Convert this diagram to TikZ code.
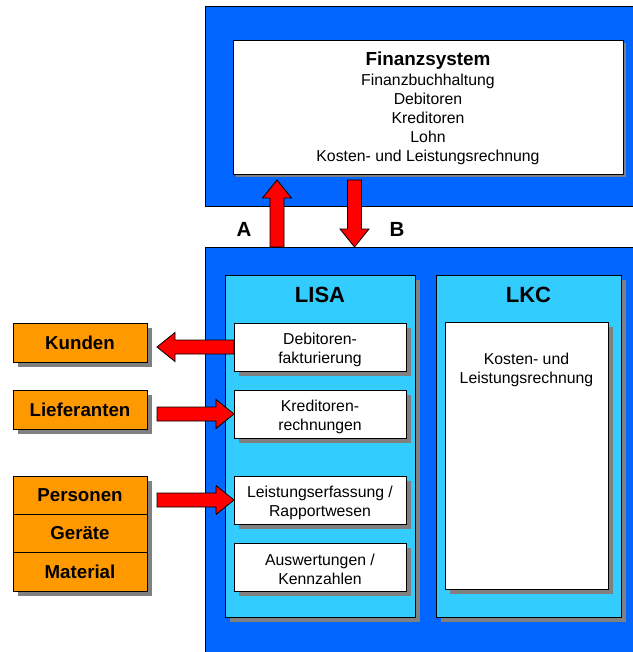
\documentclass[tikz,border=0pt]{standalone}
\usepackage{fontspec}
\setmainfont{Liberation Sans}
\usetikzlibrary{calc,shadows}
\definecolor{bigblue}{HTML}{0066FF}
\definecolor{lightblue}{HTML}{33CCFF}
\definecolor{orangebox}{HTML}{FF9900}
\definecolor{shgray}{HTML}{808080}
\newcommand\ls{\rule[-1.4pt]{0pt}{19pt}}
\newcommand\bodyfont{\fontsize{15.8}{19}\selectfont\lineskiplimit=-100pt\lineskip=0pt\relax}
\newcommand\fatarrow[3]{%
  \coordinate (#1-t) at (#2);
  \coordinate (#1-h) at (#3);
  \coordinate (#1-b) at ($(#1-h)!18pt!(#1-t)$);
  \draw[fatarr] ($(#1-t)!7pt!90:(#1-h)$) -- ($(#1-b)!7pt!90:(#1-h)$) -- ($(#1-b)!14.5pt!90:(#1-h)$) -- (#1-h)
     -- ($(#1-b)!14.5pt!-90:(#1-h)$) -- ($(#1-b)!7pt!-90:(#1-h)$) -- ($(#1-t)!7pt!-90:(#1-h)$) -- cycle;
}
\begin{document}
\begin{tikzpicture}[x=1pt,y=-1pt,
  every node/.style={inner sep=0pt, outer sep=0pt},
  shad5/.style={drop shadow={shadow xshift=5pt,shadow yshift=-5pt,fill=shgray,opacity=1}},
  shad3/.style={drop shadow={shadow xshift=3pt,shadow yshift=-3pt,fill=shgray,opacity=1}},
  bigbox/.style={draw=black, line width=1pt, fill=bigblue, anchor=north west, minimum width=440pt},
  panel/.style={draw=black, line width=1pt, fill=lightblue, anchor=north west, minimum height=342pt, shad5},
  whitebox/.style={draw=black, line width=0.8pt, fill=white, anchor=north west, minimum width=172pt, minimum height=48pt, align=center, font=\bodyfont, shad5},
  sidebox/.style={draw=black, line width=1pt, fill=orangebox, anchor=north west, minimum width=134pt, font=\bfseries\fontsize{18.7}{22}\selectfont, text height=13.4pt, text depth=0pt, shad5},
  paneltitle/.style={font=\bfseries\fontsize{22}{26}\selectfont},
  letter/.style={font=\bfseries\fontsize{20.5}{24}\selectfont},
  fatarr/.style={draw=black, line width=0.8pt, fill=red, line join=miter}
]
\useasboundingbox (0,0) rectangle (632,652);
% big blue boxes
\node[bigbox, minimum height=200pt] (fs) at (205,7) {};
\node[bigbox, minimum height=420pt] (lb) at (205,247) {};
% Finanzsystem
\node[draw=black, line width=0.8pt, fill=white, shad3, minimum width=390pt, minimum height=134pt, anchor=north west, align=center, font=\bodyfont] (fin) at (233,40)
  {{\bfseries\fontsize{18.9}{19}\selectfont\rule{0pt}{18pt}Finanzsystem}\\[1pt]
   Finanzbuchhaltung\\ Debitoren\\ Kreditoren\\ Lohn\\ Kosten- und Leistungsrechnung\rule[-4pt]{0pt}{8pt}};
% panels
\node[panel, minimum width=190pt] (lisa) at (225,275) {};
\node[panel, minimum width=185pt] (lkc) at (436,275) {};
\node[paneltitle] (lisat) at ($(lisa.north)+(0,20)$) {LISA};
\node[paneltitle] (lkct) at ($(lkc.north)+(0,20)$) {LKC};
% LKC inner
\node[draw=black, line width=0.8pt, fill=white, shad5, anchor=north west, minimum width=163pt, minimum height=267pt] (lkcw) at (445,322) {};
\node[anchor=north, align=center, font=\bodyfont] (lkctext) at ($(lkcw.north)+(0,24.4)$) {\ls Kosten- und\\\ls Leistungsrechnung};
% LISA boxes
\node[whitebox] (deb) at (234,323) {\ls Debitoren-\\\ls fakturierung};
\node[whitebox] (kred) at (234,390) {\ls Kreditoren-\\\ls rechnungen};
\node[whitebox] (leist) at (234,476) {\ls Leistungserfassung /\\\ls Rapportwesen};
\node[whitebox] (ausw) at (234,543) {\ls Auswertungen /\\\ls Kennzahlen};
% side boxes
\node[sidebox, minimum height=39pt] (kunden) at (13,323) {Kunden};
\node[sidebox, minimum height=39pt] (lief) at (13,390) {Lieferanten};
\node[sidebox, minimum height=38pt] (pers) at (13,476) {Personen};
\node[sidebox, minimum height=38pt] (ger) at (13,514) {Geräte};
\node[sidebox, minimum height=39pt] (mat) at (13,552) {Material};
% labels
\node[letter] (la) at (244,229) {A};
\node[letter] (lbl) at (397,229) {B};
% arrows
\fatarrow{aa}{$(lb.north west)+(72,0)$}{$(fin.south west)+(44,6)$}
\fatarrow{ab}{$(fin.south west)+(121.5,6)$}{$(lb.north west)+(149.5,0)$}
\fatarrow{ak}{deb.west}{$(deb.west -| kunden.east)+(10,0)$}
\fatarrow{al}{$(kred.west -| lief.east)+(10,0)$}{kred.west}
\fatarrow{ap}{$(leist.west -| pers.east)+(10,0)$}{leist.west}
\end{tikzpicture}
\end{document}
